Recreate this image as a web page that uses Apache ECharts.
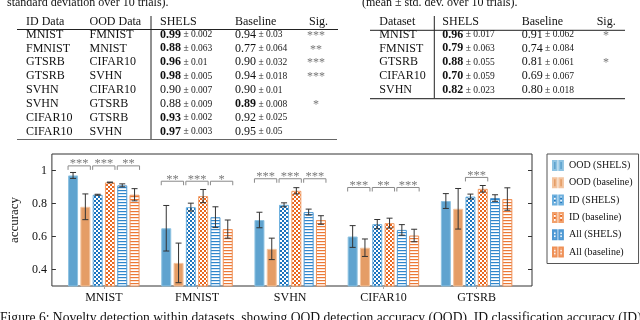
<!DOCTYPE html>
<html>
<head>
<meta charset="utf-8">
<script src="https://cdn.jsdelivr.net/npm/echarts@6/dist/echarts.min.js"></script>
<style>
  body { margin: 0; background: #fff; }
  #chart { width: 640px; height: 320px; }
</style>
</head>
<body>
<div id="chart"></div>
<script>
// 数据集
var datasets = ['MNIST', 'FMNIST', 'SVHN', 'CIFAR10', 'GTSRB'];
var seriesNames = ['OOD (SHELS)', 'OOD (baseline)', 'ID (SHELS)', 'ID (baseline)', 'All (SHELS)', 'All (baseline)'];
var yTicks = [0.4, 0.6, 0.8, 1];

// 柱子的值和误差
var oodShels = [0.97, 0.65, 0.70, 0.60, 0.815];
var oodShelsErr = [0.018, 0.138, 0.047, 0.066, 0.045];
var oodBase = [0.78, 0.44, 0.525, 0.532, 0.768];
var oodBaseErr = [0.078, 0.12, 0.065, 0.053, 0.123];
var idShels = [0.853, 0.778, 0.792, 0.675, 0.842];
var idShelsErr = [0.003, 0.024, 0.012, 0.028, 0.015];
var idBase = [0.928, 0.845, 0.877, 0.681, 0.889];
var idBaseErr = [0.002, 0.04, 0.019, 0.03, 0.02];
var allShels = [0.91, 0.717, 0.748, 0.64, 0.833];
var allShelsErr = [0.009, 0.063, 0.018, 0.032, 0.02];
var allBase = [0.853, 0.645, 0.70, 0.606, 0.827];
var allBaseErr = [0.037, 0.055, 0.026, 0.038, 0.068];

// 显著性标记
var sigStars = [['***', '***', '**'], ['**', '***', '*'], ['***', '***', '***'], ['***', '**', '***'], ['', '***', '']];
var bracketLevel = [1.028, 0.935, 0.95, 0.897, 0.958];

// 表1
var t1Id = ['MNIST', 'FMNIST', 'GTSRB', 'GTSRB', 'SVHN', 'SVHN', 'CIFAR10', 'CIFAR10'];
var t1Ood = ['FMNIST', 'MNIST', 'CIFAR10', 'SVHN', 'CIFAR10', 'GTSRB', 'GTSRB', 'SVHN'];
var t1Shels = ['0.99', '0.88', '0.96', '0.98', '0.90', '0.88', '0.93', '0.97'];
var t1ShelsSd = ['0.002', '0.063', '0.01', '0.005', '0.007', '0.009', '0.002', '0.003'];
var t1Base = ['0.94', '0.77', '0.90', '0.94', '0.90', '0.89', '0.92', '0.95'];
var t1BaseSd = ['0.03', '0.064', '0.032', '0.018', '0.01', '0.008', '0.025', '0.05'];
var t1Sig = ['***', '**', '***', '***', '', '*', '', ''];
var t1Best = ['s', 's', 's', 's', '', 'b', 's', 's'];

// 表2
var t2Data = ['MNIST', 'FMNIST', 'GTSRB', 'CIFAR10', 'SVHN'];
var t2Shels = ['0.96', '0.79', '0.88', '0.70', '0.82'];
var t2ShelsSd = ['0.017', '0.063', '0.055', '0.059', '0.023'];
var t2Base = ['0.91', '0.74', '0.81', '0.69', '0.80'];
var t2BaseSd = ['0.062', '0.084', '0.061', '0.067', '0.018'];
var t2Sig = ['*', '', '*', '', ''];

var serif = '"Liberation Serif", "DejaVu Serif", serif';
var barW = 10, barPitch = 12.3;

function dotPattern(bg) {
	var c = document.createElement('canvas');
	c.width = 4; c.height = 4;
	var g = c.getContext('2d');
	g.fillStyle = bg; g.fillRect(0, 0, 4, 4);
	g.fillStyle = '#fff';
	g.fillRect(0, 0, 2, 2);
	g.fillRect(2, 2, 2, 2);
	return { image: c, repeat: 'repeat' };
}
function linePattern(fg) {
	var c = document.createElement('canvas');
	c.width = 4; c.height = 3;
	var g = c.getContext('2d');
	g.fillStyle = '#fff'; g.fillRect(0, 0, 4, 3);
	g.fillStyle = fg; g.fillRect(0, 1, 4, 1.2);
	return { image: c, repeat: 'repeat' };
}

var styles = [
	{ color: '#5fa3cf', borderColor: '#8ec3e2' },
	{ color: '#e59d66', borderColor: '#f3c49f' },
	{ color: dotPattern('#1c74bd'), borderColor: '#6db0de' },
	{ color: dotPattern('#e8661f'), borderColor: '#f2a06b' },
	{ color: linePattern('#2f86cc'), borderColor: '#4d98d3' },
	{ color: linePattern('#ec7836'), borderColor: '#ef9157' }
];
var values = [oodShels, oodBase, idShels, idBase, allShels, allBase];
var errs = [oodShelsErr, oodBaseErr, idShelsErr, idBaseErr, allShelsErr, allBaseErr];

var series = seriesNames.map(function(name, i) {
	return {
		name: name,
		type: 'bar',
		xAxisIndex: 1,
		yAxisIndex: 2,
		barWidth: barW,
		barGap: '23%',
		clip: true,
		itemStyle: { color: styles[i].color, borderColor: styles[i].borderColor, borderWidth: 1 },
		data: values[i]
	};
});

// 误差线
var errData = [];
values.forEach(function(arr, s) {
	arr.forEach(function(v, c) { errData.push([c, v, errs[s][c], s]); });
});
series.push({
	type: 'custom',
	xAxisIndex: 1,
	yAxisIndex: 2,
	z: 5,
	encode: { x: 0, y: 1 },
	data: errData,
	renderItem: function(params, api) {
		var c = api.value(0), v = api.value(1), e = api.value(2), s = api.value(3);
		var x = api.coord([c, v])[0] + (s - 2.5) * barPitch;
		var y1 = api.coord([c, v + e])[1];
		var y2 = api.coord([c, v - e])[1];
		var st = { stroke: '#333', lineWidth: 1 };
		return { type: 'group', children: [
			{ type: 'line', shape: { x1: x, y1: y1, x2: x, y2: y2 }, style: st },
			{ type: 'line', shape: { x1: x - 3, y1: y1, x2: x + 3, y2: y1 }, style: st },
			{ type: 'line', shape: { x1: x - 3, y1: y2, x2: x + 3, y2: y2 }, style: st }
		] };
	}
});

// 显著性括号
var brData = [];
sigStars.forEach(function(row, c) {
	row.forEach(function(st, k) { if (st) brData.push([c, bracketLevel[c], k, st]); });
});
series.push({
	type: 'custom',
	xAxisIndex: 1,
	yAxisIndex: 2,
	z: 6,
	clip: false,
	encode: { x: 0, y: 1 },
	data: brData,
	renderItem: function(params, api) {
		var c = api.value(0), lv = api.value(1), k = api.value(2);
		var st = brData[params.dataIndex][3];
		var p = api.coord([c, lv]);
		var xl = p[0] + (2 * k - 2.5) * barPitch - barW / 2;
		var xr = p[0] + (2 * k + 1 - 2.5) * barPitch + barW / 2;
		var y = p[1];
		var ls = { stroke: '#8a8a8a', lineWidth: 1, fill: null };
		return { type: 'group', children: [
			{ type: 'polyline', shape: { points: [[xl, y + 4], [xl, y], [xr, y], [xr, y + 4]] }, style: ls },
			{ type: 'text', style: { text: st, x: (xl + xr) / 2, y: y - 2,
				align: 'center', verticalAlign: 'middle', fill: '#7a7a7a', font: '12.5px ' + serif } }
		] };
	}
});

// 表格绘制
var graphics = [];
function txt(x, y, text, opt) {
	opt = opt || {};
	graphics.push({ type: 'text', x: x, y: y, silent: true, style: {
		text: text, align: opt.align || 'left', verticalAlign: 'middle',
		fill: opt.fill || '#111', font: opt.font || ('12px ' + serif), rich: opt.rich
	} });
}
function line(x1, y1, x2, y2, color, w) {
	graphics.push({ type: 'line', silent: true, shape: { x1: x1, y1: y1, x2: x2, y2: y2 },
		style: { stroke: color || '#222', lineWidth: w || 1 } });
}
var rich = {
	b: { fontFamily: serif, fontSize: 12, fontWeight: 'bold', fill: '#111' },
	n: { fontFamily: serif, fontSize: 12, fill: '#111' },
	s: { fontFamily: serif, fontSize: 9.5, fill: '#222' }
};
function val(v, sd, bold) {
	return '{' + (bold ? 'b' : 'n') + '|' + v + '}{s| ± ' + sd + '}';
}
var rowY0 = 34.5, rowStep = 13.9;

txt(7, 3, 'standard deviation over 10 trials).', { font: '12px ' + serif });
txt(362, 3, '(mean ± std. dev. over 10 trials).', { font: '12px ' + serif });

// 表1
txt(26, 22, 'ID Data'); txt(89.5, 22, 'OOD Data'); txt(160, 22, 'SHELS'); txt(235, 22, 'Baseline'); txt(309, 22, 'Sig.');
line(17, 29.5, 338, 29.5, '#222', 1);
line(151, 16, 151, 139.5, '#222', 1);
line(17, 139.5, 337, 139.5, '#666', 1.2);
t1Id.forEach(function(d, i) {
	var y = rowY0 + i * rowStep;
	txt(26, y, d);
	txt(89.5, y, t1Ood[i]);
	txt(160, y, val(t1Shels[i], t1ShelsSd[i], t1Best[i] === 's'), { rich: rich });
	txt(235, y, val(t1Base[i], t1BaseSd[i], t1Best[i] === 'b'), { rich: rich });
	if (t1Sig[i]) txt(316, y + 1, t1Sig[i], { align: 'center', fill: '#777', font: '12px ' + serif });
});

// 表2
txt(379.3, 22, 'Dataset'); txt(442.3, 22, 'SHELS'); txt(521.7, 22, 'Baseline'); txt(596.7, 22, 'Sig.');
line(370, 30.3, 625, 30.3, '#222', 1);
line(434.3, 16, 434.3, 99, '#222', 1);
line(370, 98.7, 625, 98.7, '#444', 1.2);
t2Data.forEach(function(d, i) {
	var y = rowY0 + i * rowStep;
	txt(379.3, y, d);
	txt(442.3, y, val(t2Shels[i], t2ShelsSd[i], true), { rich: rich });
	txt(521.7, y, val(t2Base[i], t2BaseSd[i], false), { rich: rich });
	if (t2Sig[i]) txt(606, y + 1, t2Sig[i], { align: 'center', fill: '#777', font: '12px ' + serif });
});

// 图注
txt(0, 318, 'Figure 6: Novelty detection within datasets, showing OOD detection accuracy (OOD), ID classification accuracy (ID)', { font: '13.6px ' + serif });

var myChart = echarts.init(document.getElementById('chart'));
var option = {
	animation: false,
	backgroundColor: '#fff',
	grid: [
		{ left: 48, top: 154, width: 484, height: 132, show: true, borderColor: '#333', borderWidth: 1, backgroundColor: 'transparent' },
		{ left: 57.2, top: 154, width: 466, height: 132 }
	],
	xAxis: [
		{ gridIndex: 0, type: 'value', min: 0, max: 1, show: false },
		{
			gridIndex: 1, type: 'category', data: datasets,
			axisLine: { show: false },
			axisTick: { show: true, alignWithLabel: true, length: 3, lineStyle: { color: '#aaa' } },
			axisLabel: { fontFamily: serif, fontSize: 12, color: '#111', margin: 6 }
		}
	],
	yAxis: [
		{
			gridIndex: 0, type: 'value', min: 0.3, max: 1.1, position: 'left',
			name: 'accuracy', nameLocation: 'middle', nameGap: 29,
			nameTextStyle: { fontFamily: serif, fontSize: 13, color: '#111' },
			axisLine: { show: false },
			axisTick: { show: true, inside: true, length: 4, customValues: yTicks, lineStyle: { color: '#333' } },
			axisLabel: { customValues: yTicks, fontFamily: serif, fontSize: 12, color: '#111', margin: 5 },
			splitLine: { show: false }
		},
		{
			gridIndex: 0, type: 'value', min: 0.3, max: 1.1, position: 'right',
			axisLine: { show: false },
			axisTick: { show: true, inside: true, length: 4, customValues: yTicks, lineStyle: { color: '#333' } },
			axisLabel: { show: false },
			splitLine: { show: false }
		},
		{ gridIndex: 1, type: 'value', min: 0.3, max: 1.1, show: false }
	],
	legend: {
		data: seriesNames,
		orient: 'vertical',
		left: 547, top: 154,
		itemWidth: 12, itemHeight: 9, itemGap: 6.3,
		padding: [6, 6, 6, 5],
		borderColor: '#555', borderWidth: 1,
		icon: 'path://M0,0H4V10H0Z M7,0H11V10H7Z',
		textStyle: { fontFamily: serif, fontSize: 10, color: '#111' }
	},
	graphic: graphics,
	series: series
};
myChart.setOption(option);
</script>
</body>
</html>
